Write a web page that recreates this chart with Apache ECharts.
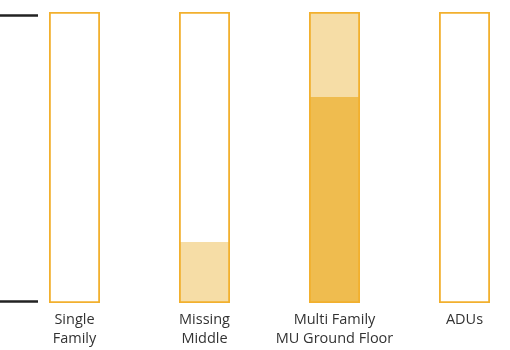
<!DOCTYPE html>
<html><head><meta charset="utf-8">
<script src="https://cdn.jsdelivr.net/npm/echarts@6/dist/echarts.min.js"></script>
<style>html,body{margin:0;padding:0;background:#fff}#c{width:510px;height:350px}</style>
</head><body><div id="c"></div>
<script>
const categories = ['Single\nFamily', 'Missing\nMiddle', 'Multi Family\nMU Ground Floor', 'ADUs'];
const darkValues = [0, 0, 71, 0];
const lightValues = [0, 21, 29, 0];
const outlineValues = [100, 100, 100, 100];
const scaleMin = 0, scaleMax = 100;

const chart = echarts.init(document.getElementById('c'), null, {renderer: 'canvas'});
chart.setOption({
  animation: false,
  grid: [
    {left: 9.5, top: 12, width: 520, bottom: 47, outerBoundsMode: 'none', containLabel: false},
    {left: 0, top: 15, width: 38, bottom: 49, outerBoundsMode: 'none'}
  ],
  xAxis: [
    {type: 'category', data: categories, gridIndex: 0,
     axisLine: {show: false}, axisTick: {show: false},
     axisLabel: {color: '#333', fontFamily: 'Open Sans', fontSize: 14.5, lineHeight: 19, margin: 7, interval: 0}},
    {type: 'value', gridIndex: 1, show: false}
  ],
  yAxis: [
    {type: 'value', gridIndex: 0, min: scaleMin, max: scaleMax, show: false},
    {type: 'value', gridIndex: 1, min: scaleMin, max: scaleMax, interval: 100,
     axisLine: {show: false}, axisTick: {show: false}, axisLabel: {show: false},
     splitLine: {show: true, lineStyle: {color: '#222', width: 2.5}}}
  ],
  series: [
    {type: 'bar', stack: 's', data: darkValues, barWidth: 51,
     itemStyle: {color: '#EFBC4F'}, z: 2},
    {type: 'bar', stack: 's', data: lightValues, barWidth: 51,
     itemStyle: {color: '#F6DDA6'}, z: 2},
    {type: 'bar', data: outlineValues, barWidth: 51, barGap: '-100%',
     itemStyle: {color: 'rgba(0,0,0,0)', borderColor: '#F2B02E', borderWidth: 1.8}, z: 3}
  ]
});
</script></body></html>
